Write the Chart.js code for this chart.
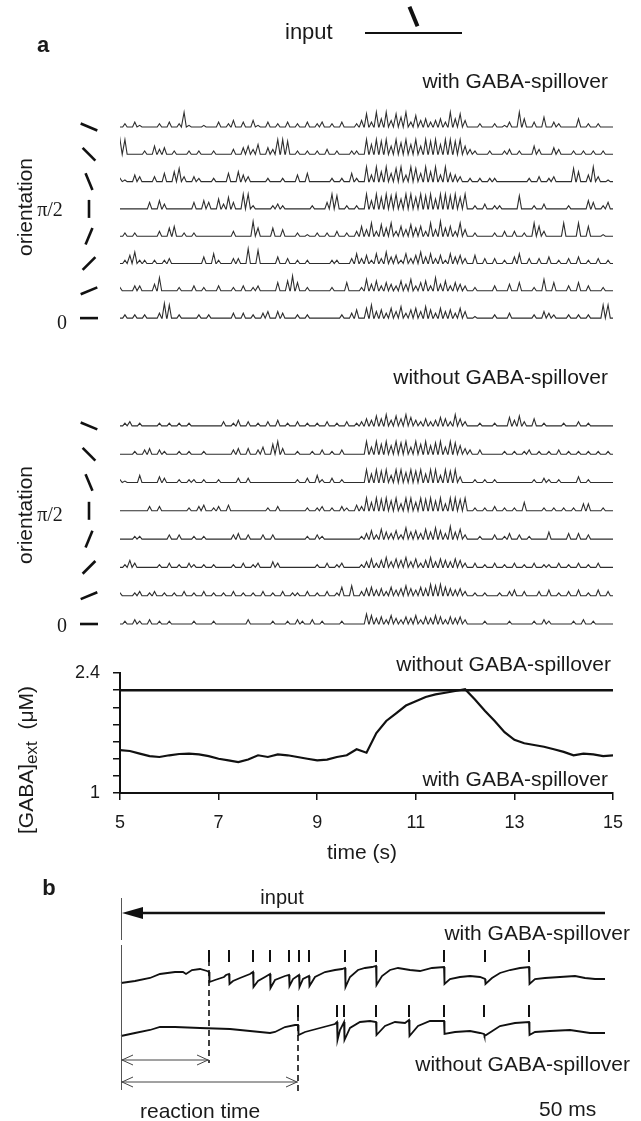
<!DOCTYPE html>
<html><head><meta charset="utf-8">
<script src="https://cdn.jsdelivr.net/npm/chart.js@4.4.0/dist/chart.umd.min.js"></script>
<style>
html,body{margin:0;padding:0;background:#fff;}
#fig{position:relative;width:641px;height:1121px;overflow:hidden;font-family:'Liberation Sans',Arial,Helvetica,sans-serif;color:#1a1a1a;}
canvas{position:absolute;}
.t{position:absolute;white-space:nowrap;line-height:1;font-size:21px;}
.r{transform:translate(-100%,-50%);}
.l{transform:translate(0,-50%);}
.c{transform:translate(-50%,-50%);}
.b{font-weight:bold;font-size:22px;}
.serif{font-family:'Liberation Serif','DejaVu Serif',serif;font-size:20px;}
.rot{transform:translate(-50%,-50%) rotate(-90deg);}
sub{font-size:17px;vertical-align:-4px;line-height:0;}
</style></head>
<body>
<div id="fig">
<canvas id="cTop" width="641" height="345" style="left:0;top:0"></canvas>
<canvas id="cMid" width="641" height="295" style="left:0;top:345px"></canvas>
<canvas id="cGaba" width="641" height="240" style="left:0;top:640px"></canvas>
<canvas id="cB" width="524" height="241" style="left:101px;top:880px"></canvas>

<div class="t l b" style="left:37px;top:45px">a</div>
<div class="t l" style="left:285px;top:32px;font-size:22px">input</div>
<div class="t r" style="left:608px;top:80px">with GABA-spillover</div>
<div class="t rot" style="left:24px;top:207px">orientation</div>
<div class="t c serif" style="left:50px;top:209px">π/2</div>
<div class="t c serif" style="left:62px;top:322px">0</div>

<div class="t r" style="left:608px;top:376px">without GABA-spillover</div>
<div class="t rot" style="left:24px;top:515px">orientation</div>
<div class="t c serif" style="left:50px;top:514px">π/2</div>
<div class="t c serif" style="left:62px;top:625px">0</div>

<div class="t r" style="left:611px;top:663px">without GABA-spillover</div>
<div class="t r" style="left:608px;top:778px">with GABA-spillover</div>
<div class="t rot" style="left:25px;top:760px">[GABA]<sub>ext</sub>&nbsp; (μM)</div>
<div class="t c" style="left:362px;top:851px">time (s)</div>

<div class="t c b" style="left:49px;top:888px">b</div>
<div class="t c" style="left:282px;top:897px;font-size:20px">input</div>
<div class="t r" style="left:630px;top:932px">with GABA-spillover</div>
<div class="t r" style="left:630px;top:1063px">without GABA-spillover</div>
<div class="t l" style="left:140px;top:1110px">reaction time</div>
<div class="t l" style="left:539px;top:1108px">50 ms</div>
</div>

<script>
// ---------- DATA ----------
// raster traces: samples every 0.1 s from 5 s to 15 s (activity, arbitrary units 0-9)
const traceT0 = 5, traceDt = 0.1;
const orientDeg = [0, 22.5, 45, 67.5, 90, 112.5, 135, 157.5]; // row 0 (bottom) .. row 7 (top)
const inputDeg = 112.5;

// with GABA-spillover, rows top (157.5 deg) to bottom (0 deg)
const withRow1 = [0,2,0,3,1,0,0,0,2,0,3,0,2,9,1,0,0,1,0,0,
 3,0,2,4,0,3,0,4,1,0,3,0,2,0,3,0,2,0,3,0,
 2,3,0,2,0,3,0,0,2,4,8,3,9,5,9,4,8,6,9,3,
 7,4,5,3,4,5,3,9,5,8,4,0,0,2,0,0,2,0,1,3,
 0,9,5,0,3,0,6,0,3,2,0,0,0,5,0,2,0,2,0,0,0];
const withRow2 = [9,9,0,0,0,2,0,5,3,4,0,2,0,0,2,0,2,0,0,2,
 0,0,0,3,0,4,5,3,6,0,4,3,9,9,8,0,2,0,2,0,
 2,0,3,0,2,0,0,2,2,0,9,6,9,8,9,5,9,7,9,6,
 9,5,9,8,9,6,9,9,8,9,5,3,2,0,0,2,0,0,2,3,
 0,2,0,0,5,3,0,0,4,3,0,0,2,0,2,0,2,0,2,0,0];
const withRow3 = [2,1,0,4,3,0,0,3,0,5,0,6,8,3,0,3,2,0,0,2,
 0,0,5,0,6,4,3,0,0,0,2,0,0,2,0,0,4,0,5,0,
 0,0,0,2,0,2,0,5,2,0,9,4,9,6,9,5,8,9,4,9,
 8,5,9,6,9,4,9,5,4,3,0,2,0,2,0,2,2,0,0,0,
 0,0,0,2,0,3,0,2,3,0,0,0,8,6,0,4,9,3,0,1,0];
const withRow4 = [0,0,0,0,0,0,4,0,5,3,0,0,0,0,0,4,0,5,4,0,
 6,3,7,4,0,9,9,2,0,0,0,2,3,2,0,0,0,0,0,2,
 0,0,4,9,8,0,2,0,2,0,9,5,9,7,9,8,9,6,9,9,
 7,9,8,9,6,9,9,8,9,7,9,0,2,0,3,0,2,2,0,0,
 0,8,0,0,2,0,3,0,0,0,0,2,0,0,0,5,4,0,2,4,0];
const withRow5 = [0,2,0,2,0,0,0,0,3,0,5,6,0,2,0,2,0,0,0,0,
 0,0,0,3,0,0,0,9,5,0,0,5,0,4,0,0,2,0,1,0,
 2,0,2,0,3,0,2,0,3,6,4,8,3,7,5,8,3,6,4,7,
 5,6,3,8,4,9,5,6,3,8,4,0,2,0,0,0,2,0,3,0,
 3,0,2,0,8,6,3,0,0,0,8,0,0,8,0,6,0,0,1,0,0];
const withRow6 = [0,2,5,7,2,2,0,2,0,2,3,0,0,0,0,0,0,4,0,6,
 2,0,0,3,3,0,9,0,8,0,0,0,4,0,3,0,2,0,2,0,
 0,0,0,2,2,0,0,3,6,3,5,2,6,3,7,4,5,2,6,3,
 5,7,4,6,3,5,2,6,4,5,3,0,5,0,3,0,3,0,2,0,
 4,6,0,3,0,3,0,4,0,2,0,3,0,4,0,2,0,3,0,2,0];
const withRow7 = [2,0,0,3,3,0,0,4,8,0,0,0,2,0,0,3,0,2,0,0,
 3,0,0,2,0,3,0,2,3,0,0,0,5,0,6,9,5,0,2,0,
 0,0,0,2,0,0,5,0,0,2,7,4,6,3,5,4,3,6,4,7,
 3,5,6,3,8,4,6,3,5,4,3,0,2,0,0,0,3,0,0,4,
 0,5,0,0,2,0,7,0,5,0,0,3,0,5,0,3,0,0,2,0,0];
const withRow8 = [0,2,0,2,0,2,0,0,3,9,8,0,2,0,0,0,2,0,2,0,
 0,0,0,3,0,3,0,2,0,3,4,0,4,3,0,0,2,0,2,0,
 0,0,0,0,0,2,0,3,5,0,6,8,4,5,3,6,4,7,3,5,
 6,4,7,5,3,6,4,5,3,6,4,0,1,0,0,0,2,0,0,3,
 0,0,0,0,2,0,4,3,2,0,0,2,0,2,0,2,0,0,8,8,0];

// without GABA-spillover
const withoutRow1 = [0,2,3,0,2,0,0,0,2,0,2,0,2,0,2,0,0,0,0,0,
 0,3,0,2,4,0,3,0,2,0,3,0,4,0,2,0,3,0,2,0,
 2,0,3,0,2,0,3,0,2,3,5,4,7,5,8,4,7,5,8,6,
 4,3,5,3,4,6,5,3,8,5,3,0,0,2,0,0,2,0,0,6,
 4,7,3,0,5,0,2,0,0,0,2,0,0,3,0,2,0,0,0,0,0];
const withoutRow2 = [0,0,0,2,0,3,4,0,3,2,0,0,2,0,2,0,0,2,0,0,
 0,0,0,3,4,0,4,0,3,5,0,7,9,4,0,0,2,0,0,2,
 0,3,0,2,0,3,0,0,0,0,9,5,9,7,9,6,9,8,9,5,
 9,7,9,6,8,9,5,9,8,6,4,3,0,3,0,0,0,0,2,0,
 2,0,2,3,0,2,0,2,0,3,0,2,0,2,0,2,0,2,0,2,0];
const withoutRow3 = [2,1,0,0,5,0,0,0,4,3,0,0,2,0,2,2,0,2,0,0,
 2,0,0,0,3,0,3,0,0,0,0,0,0,0,0,0,2,0,3,0,
 5,2,0,3,0,2,0,0,0,0,9,6,9,8,9,5,9,9,7,9,
 8,9,6,9,9,5,9,8,9,4,0,0,2,0,2,0,2,0,0,0,
 0,0,0,0,2,0,3,2,0,2,0,0,0,4,0,2,0,0,0,0,0];
const withoutRow4 = [0,0,0,0,0,0,3,0,3,0,0,0,0,0,2,0,3,4,0,2,
 3,0,4,0,0,0,0,0,0,0,2,0,3,0,0,0,0,0,2,0,
 2,3,0,2,0,3,2,0,4,3,9,6,9,8,9,7,9,5,9,9,
 6,9,8,9,7,9,5,9,9,8,9,0,2,0,2,0,3,0,2,0,
 2,0,6,0,0,0,2,0,2,0,2,0,2,0,5,5,0,0,2,0,0];
const withoutRow5 = [0,0,0,2,2,0,0,0,0,0,3,0,3,0,0,2,0,2,0,0,
 0,0,0,3,4,0,3,0,0,3,0,3,0,0,0,0,0,0,2,0,
 3,2,0,0,0,0,0,0,0,2,4,6,3,7,5,4,6,3,8,5,
 6,4,7,5,8,6,4,9,5,7,3,0,0,2,0,0,3,0,2,4,
 0,3,0,2,0,0,0,5,0,0,0,4,0,4,0,3,0,0,0,0,0];
const withoutRow6 = [0,2,5,3,0,0,0,0,2,0,3,0,2,0,3,2,0,2,0,2,
 0,0,0,2,0,3,0,2,3,0,0,4,3,0,0,0,0,0,0,0,
 2,0,3,0,2,3,0,0,0,2,4,6,3,5,7,4,6,5,7,4,
 6,3,5,7,4,6,5,4,6,5,3,0,3,0,2,0,3,0,2,0,
 3,0,2,0,3,0,2,2,0,3,0,2,0,3,0,2,0,3,0,0,0];
const withoutRow7 = [2,0,0,2,3,0,2,3,0,2,0,2,0,3,0,2,0,3,0,2,
 0,2,0,3,0,2,0,2,0,3,0,2,0,3,0,2,2,0,3,0,
 2,0,3,0,2,6,0,7,0,3,5,6,4,5,3,6,4,5,7,5,
 4,6,5,8,7,8,6,5,4,5,3,0,2,0,2,0,0,2,0,3,
 4,0,3,0,0,3,0,4,0,2,0,3,0,4,0,2,0,4,0,3,0];
const withoutRow8 = [0,2,0,3,2,0,3,0,2,0,2,0,0,0,0,2,0,0,0,2,
 0,0,0,0,0,0,3,0,0,0,0,2,0,0,2,0,3,2,0,3,
 0,2,0,0,0,2,0,0,0,0,7,6,4,5,3,6,4,3,5,4,
 6,3,5,4,6,5,3,5,4,5,3,0,0,0,2,0,0,0,0,2,
 0,0,0,0,2,0,3,2,0,0,0,0,2,0,3,0,2,0,0,0,0];

// extracellular GABA (uM)
const gabaTime = [5,5.2,5.4,5.6,5.8,6,6.2,6.4,6.6,6.8,7,7.2,7.4,7.6,7.8,8,8.2,8.4,8.6,8.8,
 9,9.2,9.4,9.6,9.8,10,10.2,10.4,10.6,10.8,11,11.2,11.4,11.6,11.8,12,12.2,12.4,12.6,12.8,
 13,13.2,13.4,13.6,13.8,14,14.2,14.4,14.6,14.8,15];
const gabaWith = [1.50,1.49,1.46,1.43,1.42,1.44,1.455,1.46,1.45,1.43,1.40,1.38,1.36,1.39,1.44,1.42,1.45,1.44,1.42,1.40,
 1.38,1.39,1.42,1.44,1.51,1.47,1.70,1.84,1.93,2.02,2.07,2.12,2.15,2.17,2.19,2.21,2.09,1.96,1.84,1.71,
 1.62,1.58,1.56,1.54,1.51,1.48,1.44,1.46,1.45,1.43,1.44];
const gabaWithoutTime = [5, 15];
const gabaWithout = [2.2, 2.2];
const gabaYTicks = ['2.4', '1'];

// panel b: membrane potential (mV) vs time (ms)
const bTimeTop = [0,7,14.5,19.5,27,31,32.5,35.5,39.5,43,44,44.25,47,51.5,52.5,54,54.25,56,59.5,64.5,
 66,66.25,68.5,72,74.5,74.75,77,82,84,84.25,86,89,89.25,91,94,94.25,97,102,107,110.5,
 112,112.25,114.5,118.5,122,125.5,127.5,127.75,130.5,134.5,138.5,144.5,149.5,155.5,161.5,161.75,164.5,169.5,174.5,179.5,
 182,182.25,185.5,189.5,194.5,199.5,204,204.25,207,212,219.5,227,232,237,242];
const bVTop = [-59,-58,-56.5,-54.5,-53.5,-53.5,-54.5,-52.5,-52,-53,-53.5,-58.5,-57.5,-56,-55,-54.5,-59.5,-58,-56.5,-54.5,
 -53.5,-61,-58,-56,-54.5,-61.5,-57.5,-55.5,-55,-60.5,-57,-55,-61,-57,-55.5,-60.5,-56,-53.5,-52.5,-52,
 -51.5,-61,-56,-52.5,-51.5,-51,-50.5,-60,-55.5,-52.5,-51.5,-52.5,-53,-51.5,-51,-59.5,-57,-56,-55.5,-56,
 -57,-59.5,-56.5,-54,-52.5,-51.5,-51,-59.5,-57,-56.5,-56,-55.5,-56.5,-57,-57];
const bTimeBot = [0,7,14.5,19.5,27,39.5,54.5,64.5,74.5,77,82,87,88.5,88.75,92,99.5,107,108,108.25,109.5,
 111.5,111.75,114.5,119.5,124.5,127.5,127.75,132,137,142,144,144.25,148.5,154.5,161.5,161.75,167,174.5,179.5,181.5,
 181.75,189.5,197,204,204.25,207,214.5,224.5,234.5,242];
const bVBot = [-58,-56.5,-55,-53.5,-53.5,-54,-54.5,-55.5,-56.5,-56,-53.5,-52.5,-52.5,-57.5,-56,-54,-52,-51,-60,-55,
 -51,-60,-54,-51,-50.5,-51,-57.5,-53,-51,-51.5,-50,-58,-53,-50.5,-50.5,-57,-56,-55.5,-56.5,-57,
 -58,-53,-51.5,-51,-57.5,-56,-55.5,-55,-56.5,-56.5];
const spikeTop = [44,54,66,74.5,84,89,94,112,127.5,161.5,182,204];
const spikeBot = [88.5,108,111.5,127.5,144,161.5,181.5,204];
const spikeMarkV = -45.5;

// ---------- RENDER ----------
Chart.defaults.font.family = "'Liberation Sans', Arial, Helvetica, sans-serif";
Chart.defaults.color = '#1a1a1a';

const withRows = [withRow1,withRow2,withRow3,withRow4,withRow5,withRow6,withRow7,withRow8];
const withoutRows = [withoutRow1,withoutRow2,withoutRow3,withoutRow4,withoutRow5,withoutRow6,withoutRow7,withoutRow8];

// each sample is drawn as a narrow spike rising from the row baseline
const spikeHalfWidth = 0.045; // s, drawing width of a spike
function traceDatasets(rows, amp){
  return rows.map((vals, k) => {
    const r = rows.length - 1 - k;
    const pts = [{x: traceT0, y: r}];
    vals.forEach((v, i) => {
      const t = traceT0 + i*traceDt;
      if (v > 0) {
        pts.push({x: t - spikeHalfWidth, y: r});
        pts.push({x: t, y: r + v*amp});
        pts.push({x: t + spikeHalfWidth, y: r});
      }
    });
    pts.push({x: traceT0 + (vals.length-1)*traceDt, y: r});
    return { data: pts, borderColor: 'rgba(28,28,28,0.92)', borderWidth: 1.1, pointRadius: 0, tension: 0, fill: false };
  });
}

const orientPlugin = {
  id: 'orient',
  afterDraw(chart, args, opts){
    const ctx = chart.ctx, ys = chart.scales.y;
    ctx.save();
    ctx.strokeStyle = '#111'; ctx.lineWidth = 2.6; ctx.lineCap = 'butt';
    orientDeg.forEach((deg, r) => {
      const cy = ys.getPixelForValue(r), cx = 89, L = 9;
      const a = deg*Math.PI/180;
      ctx.beginPath();
      ctx.moveTo(cx - Math.cos(a)*L, cy + Math.sin(a)*L);
      ctx.lineTo(cx + Math.cos(a)*L, cy - Math.sin(a)*L);
      ctx.stroke();
    });
    if (opts && opts.input){
      ctx.lineWidth = 2;
      ctx.beginPath(); ctx.moveTo(365, 33); ctx.lineTo(462, 33); ctx.stroke();
      const a = inputDeg*Math.PI/180, L = 10.5, cx = 413.5, cy = 16.5;
      ctx.lineWidth = 4;
      ctx.beginPath();
      ctx.moveTo(cx - Math.cos(a)*L, cy + Math.sin(a)*L);
      ctx.lineTo(cx + Math.cos(a)*L, cy - Math.sin(a)*L);
      ctx.stroke();
    }
    ctx.restore();
  }
};

function traceChart(id, rows, amp, padTop, padBottom, ymin, ymax, input){
  new Chart(document.getElementById(id), {
    type: 'line',
    data: { datasets: traceDatasets(rows, amp) },
    options: {
      responsive: false, animation: false, events: [],
      layout: { autoPadding: false, padding: { left: 120, right: 28, top: padTop, bottom: padBottom } },
      plugins: { legend: {display:false}, tooltip: {enabled:false}, orient: { input: input } },
      scales: {
        x: { type: 'linear', min: 5, max: 15, display: false },
        y: { type: 'linear', min: ymin, max: ymax, display: false }
      }
    },
    plugins: [orientPlugin]
  });
}
traceChart('cTop', withRows, 0.06, 100, 5, -0.802, 7.989, true);
traceChart('cMid', withoutRows, 0.05, 55, 0, -0.565, 7.915, false);

// GABA chart
new Chart(document.getElementById('cGaba'), {
  type: 'line',
  data: { datasets: [
    { data: gabaWithoutTime.map((t,i)=>({x:t, y:gabaWithout[i]})), borderColor:'#111', borderWidth:2.5, pointRadius:0 },
    { data: gabaTime.map((t,i)=>({x:t, y:gabaWith[i]})), borderColor:'#111', borderWidth:2.2, pointRadius:0, tension:0 }
  ]},
  options: {
    responsive: false, animation: false, events: [],
    layout: { autoPadding: false, padding: { left: 0, right: 28, top: 33, bottom: 0 } },
    plugins: { legend: {display:false}, tooltip: {enabled:false} },
    scales: {
      x: { type:'linear', min:5, max:15,
        afterFit(s){ s.height = 87; },
        ticks: { stepSize: 2, autoSkip:false, maxRotation:0, padding: 12, font:{size:18}, color:'#1a1a1a' },
        grid: { display:true, drawOnChartArea:false, drawTicks:true, tickLength:7, color:'#111', lineWidth:1.5 },
        border: { display:true, color:'#111', width:2 } },
      y: { type:'linear', min:1, max:2.4,
        afterFit(s){ s.width = 120; },
        ticks: { stepSize: 0.2, autoSkip:false, padding: 13, font:{size:18}, color:'#1a1a1a',
          callback(v){ const s = gabaYTicks.find(l => Math.abs(parseFloat(l) - v) < 1e-6); return s || ''; } },
        grid: { display:true, drawOnChartArea:false, drawTicks:true, tickLength:7, color:'#111', lineWidth:1.5 },
        border: { display:true, color:'#111', width:2 } }
    }
  }
});

// panel b
const panelBPlugin = {
  id: 'panelB',
  afterDraw(chart){
    const ctx = chart.ctx, xs = chart.scales.x, y1 = chart.scales.y1, y2 = chart.scales.y2;
    const x0 = xs.getPixelForValue(0), xEnd = xs.getPixelForValue(bTimeTop[bTimeTop.length-1]);
    ctx.save();
    // stimulus onset line
    ctx.strokeStyle = '#555'; ctx.lineWidth = 1;
    ctx.beginPath(); ctx.moveTo(x0+0.5, 18); ctx.lineTo(x0+0.5, 60); ctx.moveTo(x0+0.5, 65); ctx.lineTo(x0+0.5, 210); ctx.stroke();
    // input arrow
    ctx.strokeStyle = '#111'; ctx.fillStyle = '#111'; ctx.lineWidth = 2.5;
    ctx.beginPath(); ctx.moveTo(x0+18, 33); ctx.lineTo(xEnd, 33); ctx.stroke();
    ctx.beginPath(); ctx.moveTo(x0+1, 33); ctx.lineTo(x0+22, 27); ctx.lineTo(x0+22, 39); ctx.closePath(); ctx.fill();
    // reaction-time dashed lines
    const xr1 = xs.getPixelForValue(spikeTop[0]), xr2 = xs.getPixelForValue(spikeBot[0]);
    ctx.lineWidth = 1.6; ctx.setLineDash([6,4]);
    ctx.beginPath(); ctx.moveTo(xr1, y1.getPixelForValue(-42.5)); ctx.lineTo(xr1, 183); ctx.stroke();
    ctx.beginPath(); ctx.moveTo(xr2, y2.getPixelForValue(-42.5)); ctx.lineTo(xr2, 213); ctx.stroke();
    ctx.setLineDash([]);
    // double arrows
    ctx.strokeStyle = '#444'; ctx.lineWidth = 1;
    [[xr1, 180], [xr2, 202]].forEach(([xe, yy]) => {
      ctx.beginPath(); ctx.moveTo(x0, yy); ctx.lineTo(xe, yy); ctx.stroke();
      ctx.beginPath(); ctx.moveTo(x0+12, yy-5); ctx.lineTo(x0+1, yy); ctx.lineTo(x0+12, yy+5); ctx.stroke();
      ctx.beginPath(); ctx.moveTo(xe-12, yy-5); ctx.lineTo(xe-1, yy); ctx.lineTo(xe-12, yy+5); ctx.stroke();
    });
    ctx.restore();
  }
};
new Chart(document.getElementById('cB'), {
  type: 'line',
  data: { datasets: [
    { data: bTimeTop.map((t,i)=>({x:t, y:bVTop[i]})), yAxisID:'y1', borderColor:'#111', borderWidth:1.8, pointRadius:0, tension:0 },
    { data: bTimeBot.map((t,i)=>({x:t, y:bVBot[i]})), yAxisID:'y2', borderColor:'#111', borderWidth:1.8, pointRadius:0, tension:0 },
    { data: spikeTop.map(t=>({x:t, y:spikeMarkV})), yAxisID:'y1', showLine:false, pointStyle:'line', rotation:90, pointRadius:6, pointBorderWidth:2, pointBorderColor:'#111' },
    { data: spikeBot.map(t=>({x:t, y:spikeMarkV})), yAxisID:'y2', showLine:false, pointStyle:'line', rotation:90, pointRadius:6, pointBorderWidth:2, pointBorderColor:'#111' }
  ]},
  options: {
    responsive: false, animation: false, events: [],
    layout: { autoPadding: false, padding: 0 },
    plugins: { legend: {display:false}, tooltip: {enabled:false} },
    scales: {
      x: { type:'linear', min:-10, max:252, display:false },
      y1: { type:'linear', min:-128, max:-7.5, display:false },
      y2: { type:'linear', min:-100.5, max:20, display:false }
    }
  },
  plugins: [panelBPlugin]
});
</script>
</body></html>
